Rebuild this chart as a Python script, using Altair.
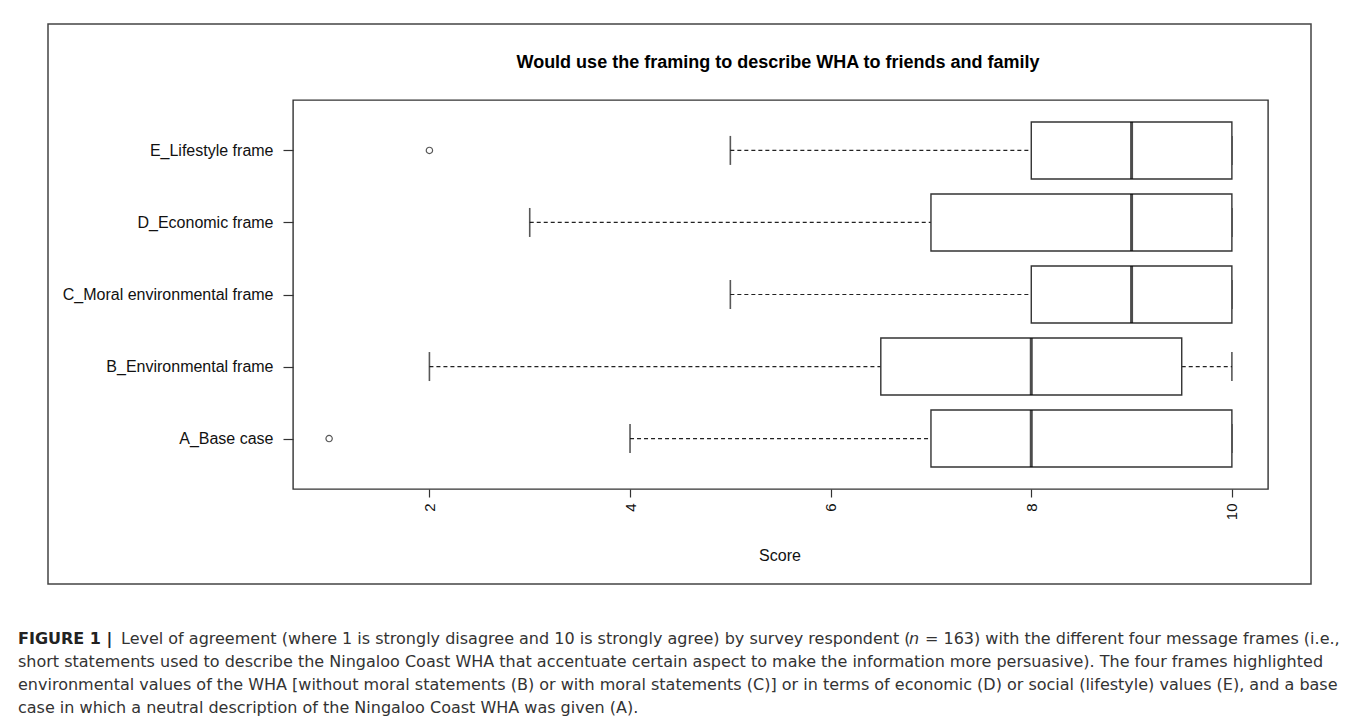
import altair as alt
import pandas as pd

# ---- data ----
frames = ["E_Lifestyle frame", "D_Economic frame", "C_Moral environmental frame",
          "B_Environmental frame", "A_Base case"]
whisker_low = [5, 3, 5, 2, 4]
q1 = [8, 7, 8, 6.5, 7]
median = [9, 9, 9, 8, 8]
q3 = [10, 10, 10, 9.5, 10]
whisker_high = [10, 10, 10, 10, 10]

outlier_frames = ["E_Lifestyle frame", "A_Base case"]
outlier_scores = [2, 1]

x_ticks = [2, 4, 6, 8, 10]

title_text = "Would use the framing to describe WHA to friends and family"
x_title = "Score"
caption_bold = "FIGURE 1 |"
caption_l1a = "Level of agreement (where 1 is strongly disagree and 10 is strongly agree) by survey respondent ("
caption_l1n = "n"
caption_l1b = "= 163) with the different four message frames (i.e.,"
caption_lines = [
    "short statements used to describe the Ningaloo Coast WHA that accentuate certain aspect to make the information more persuasive). The four frames highlighted",
    "environmental values of the WHA [without moral statements (B) or with moral statements (C)] or in terms of economic (D) or social (lifestyle) values (E), and a base",
    "case in which a neutral description of the Ningaloo Coast WHA was given (A).",
]

box_df = pd.DataFrame({"frame": frames, "low": whisker_low, "q1": q1, "median": median,
                       "q3": q3, "high": whisker_high})
out_df = pd.DataFrame({"frame": outlier_frames, "score": outlier_scores})

FONT = "Liberation Sans, Arial, Helvetica, sans-serif"
CAP_FONT = "DejaVu Sans, sans-serif"
W, H = 975, 389
OX, OY = 293, 100  # plot origin on the page

x_scale = alt.Scale(domain=[0.64, 10.36], nice=False, zero=False)
y_scale = alt.Scale(type="point", domain=frames, padding=0.7)

x_enc = alt.X("low:Q", scale=x_scale,
              axis=alt.Axis(values=x_ticks, format="d", title=None, labelAngle=270,
                            labelFontSize=15, labelFont=FONT, labelColor="#111", tickSize=8,
                            tickColor="#333", tickWidth=1.2, labelPadding=6, domain=False,
                            grid=False))
y_enc = alt.Y("frame:N", scale=y_scale,
              axis=alt.Axis(title=None, labelFontSize=16, labelFont=FONT, labelColor="#111",
                            labelLimit=400, tickSize=10, tickColor="#333", tickWidth=1.2,
                            labelPadding=10, domain=False, grid=False))

base = alt.Chart(box_df)

lower_whisker = base.mark_rule(color="#222", strokeWidth=1.2, strokeDash=[4, 3]).encode(
    x=x_enc, x2="q1:Q", y=y_enc)
upper_whisker = base.mark_rule(color="#222", strokeWidth=1.2, strokeDash=[4, 3]).encode(
    x=alt.X("q3:Q", scale=x_scale), x2="high:Q", y=alt.Y("frame:N", scale=y_scale))
cap_low = base.mark_tick(color="#111", size=29, thickness=1.6).encode(
    x=alt.X("low:Q", scale=x_scale), y=alt.Y("frame:N", scale=y_scale))
cap_high = base.mark_tick(color="#111", size=29, thickness=1.6).encode(
    x=alt.X("high:Q", scale=x_scale), y=alt.Y("frame:N", scale=y_scale))
boxes = base.mark_bar(size=57, fill="white", stroke="#333", strokeWidth=1.4).encode(
    x=alt.X("q1:Q", scale=x_scale), x2="q3:Q", y=alt.Y("frame:N", scale=y_scale))
medians = base.mark_tick(color="#000", size=57, thickness=3).encode(
    x=alt.X("median:Q", scale=x_scale), y=alt.Y("frame:N", scale=y_scale))
outliers = alt.Chart(out_df).mark_point(shape="circle", filled=False, color="#111",
                                        size=40, strokeWidth=1.2).encode(
    x=alt.X("score:Q", scale=x_scale), y=alt.Y("frame:N", scale=y_scale))

one = pd.DataFrame({"k": [0]})

def frame_rect(x0, y0, x1, y1, color, sw):
    return alt.Chart(one).mark_rect(fill=None, stroke=color, strokeWidth=sw, clip=False).encode(
        x=alt.value(x0 - OX), x2=alt.value(x1 - OX), y=alt.value(y0 - OY), y2=alt.value(y1 - OY))

outer_box = frame_rect(7, 6, 1357, 760, "#666", 1.5)
inner_box = frame_rect(48, 24, 1311, 584, "#444", 1.5)

def txt(text, x, y, size, weight="normal", align="left", color="#222", style="normal", font=FONT):
    return alt.Chart(one).mark_text(text=text, font=font, fontSize=size, fontWeight=weight,
                                    fontStyle=style, align=align, baseline="alphabetic",
                                    color=color).encode(
        x=alt.value(x - OX), y=alt.value(y - OY))

title = txt(title_text, 778, 68, 18, weight="bold", align="center", color="#000")
xlab = txt(x_title, 780, 561, 16, align="center", color="#111")

CS = 16.0
cap_y = [644, 667, 690, 713]
caption = [
    txt(caption_bold, 18, cap_y[0], CS, weight="bold", color="#222", font=CAP_FONT),
    txt(caption_l1a, 121, cap_y[0], CS, color="#333", font=CAP_FONT),
    txt(caption_l1n, 909, cap_y[0], CS, color="#333", style="italic", font=CAP_FONT),
    txt(caption_l1b, 925, cap_y[0], CS, color="#333", font=CAP_FONT),
]
for i, line in enumerate(caption_lines):
    caption.append(txt(line, 18, cap_y[i + 1], CS, color="#333", font=CAP_FONT))

chart = alt.layer(
    outer_box, inner_box,
    lower_whisker, upper_whisker, cap_low, cap_high, boxes, medians, outliers,
    title, xlab, *caption
).properties(
    width=W, height=H,
    autosize=alt.AutoSizeParams(type="none"),
    padding={"left": OX - 8, "top": OY - 8, "right": 1347 - (OX - 8) - W, "bottom": 709 - (OY - 8) - H},
    background="white",
).configure_view(stroke="#333", strokeWidth=1.4)

chart.save("out.html", embed_options={"renderer": "svg", "actions": False})
